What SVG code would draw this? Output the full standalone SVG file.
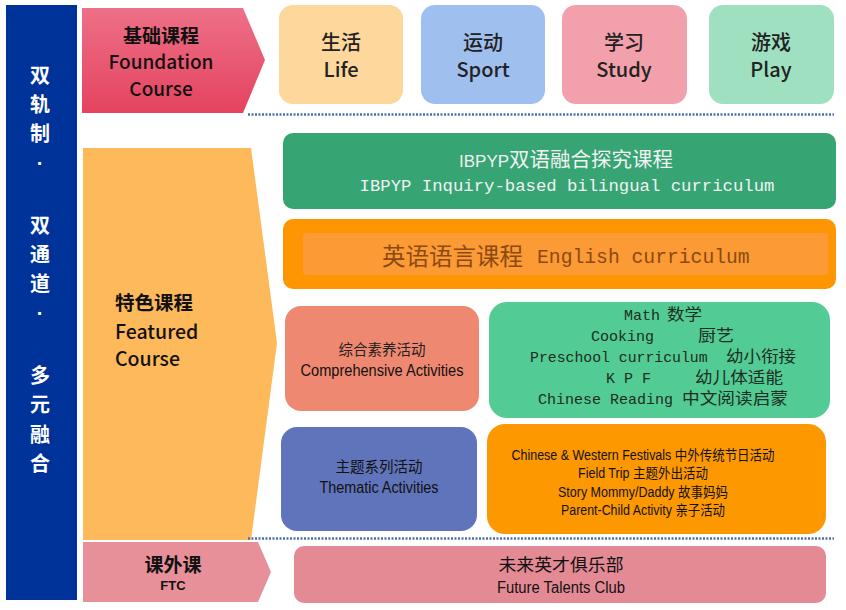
<svg xmlns="http://www.w3.org/2000/svg" width="846" height="610" viewBox="0 0 846 610">
<defs>
<linearGradient id="gFound" x1="0" y1="0" x2="0" y2="1">
<stop offset="0" stop-color="#ee7088"/>
<stop offset="1" stop-color="#e4435f"/>
</linearGradient>
</defs>
<style>
.cjk{font-family:"Liberation Sans","Noto Sans CJK SC",sans-serif}
.ttl{font-family:"Noto Sans CJK SC","Liberation Sans",sans-serif;font-weight:500}
.mono{font-family:"Liberation Mono","Noto Sans CJK SC",monospace}
.zh{font-family:"Liberation Sans","Noto Sans CJK SC",sans-serif}
.dot{stroke:#4f6fa8;stroke-width:2.5;stroke-dasharray:2 1.5;fill:none}
.t{text-anchor:middle}
</style>
<rect width="846" height="610" fill="#ffffff"/>

<g id="pillar">
<rect x="6" y="5" width="71" height="595" fill="#003399"/>
<g class="cjk t" font-size="20" font-weight="bold" fill="#ffffff">
<text x="40" y="83">双</text>
<text x="40" y="112">轨</text>
<text x="40" y="141">制</text>
<text x="40" y="170">·</text>
<text x="40" y="233">双</text>
<text x="40" y="262">通</text>
<text x="40" y="291">道</text>
<text x="40" y="320">·</text>
<text x="40" y="383">多</text>
<text x="40" y="412">元</text>
<text x="40" y="442">融</text>
<text x="40" y="471">合</text>
</g>
</g>

<g id="foundation">
<polygon points="82,8 243,8 265,60 243,113 82,113" fill="url(#gFound)"/>
<g class="ttl t" font-size="19" fill="#111111">
<text x="161" y="43" font-weight="bold">基础课程</text>
<text x="161" y="69">Foundation</text>
<text x="161" y="96">Course</text>
</g>
</g>

<g id="life">
<rect x="279" y="5" width="124" height="99" rx="14" fill="#fdd79c"/>
<text class="ttl t" x="341" y="50" font-size="20" font-weight="bold" fill="#222">生活</text>
<text class="ttl t" x="341" y="77" font-size="20" fill="#222">Life</text>
</g>
<g id="sport">
<rect x="421" y="5" width="124" height="99" rx="14" fill="#9fbfee"/>
<text class="ttl t" x="483" y="50" font-size="20" font-weight="bold" fill="#222">运动</text>
<text class="ttl t" x="483" y="77" font-size="20" fill="#222">Sport</text>
</g>
<g id="study">
<rect x="562" y="5" width="125" height="99" rx="14" fill="#f2a0ac"/>
<text class="ttl t" x="624" y="50" font-size="20" font-weight="bold" fill="#222">学习</text>
<text class="ttl t" x="624" y="77" font-size="20" fill="#222">Study</text>
</g>
<g id="play">
<rect x="709" y="5" width="125" height="99" rx="14" fill="#9fe0c1"/>
<text class="ttl t" x="771" y="50" font-size="20" font-weight="bold" fill="#222">游戏</text>
<text class="ttl t" x="771" y="77" font-size="20" fill="#222">Play</text>
</g>

<g id="featured">
<polygon points="83,148 251,148 277,343 251,540 83,540" fill="#fdb95a"/>
<g class="ttl" font-size="19.5" fill="#111111">
<text x="115" y="310" font-weight="bold">特色课程</text>
<text x="115" y="339">Featured</text>
<text x="115" y="366">Course</text>
</g>
</g>

<g id="ftc">
<polygon points="83,542 258,542 271,572 258,602 83,602" fill="#e8909a"/>
<text class="cjk t" x="173" y="572" font-size="19" font-weight="bold" fill="#111">课外课</text>
<text class="cjk t" x="173" y="590" font-size="13" font-weight="bold" fill="#111">FTC</text>
</g>

<g id="ibpyp">
<rect x="283" y="133" width="553" height="76" rx="10" fill="#36a473"/>
<text class="zh" x="459" y="167" fill="#f2f2f2"><tspan font-size="17">IBPYP</tspan><tspan font-size="20.5">双语融合探究课程</tspan></text>
<text class="mono t" x="567" y="191" font-size="17.3" fill="#f2f2f2">IBPYP Inquiry-based bilingual curriculum</text>
</g>

<g id="english">
<rect x="283" y="219" width="553" height="70" rx="10" fill="#fe9603"/>
<rect x="303" y="233" width="525" height="42" rx="3" fill="#fc9a36"/>
<text class="zh" x="382" y="265" font-size="23.5" fill="#8a4a10">英语语言课程</text>
<text class="mono" x="537" y="263" font-size="19.7" fill="#8a4a10">English curriculum</text>
</g>

<g id="comprehensive">
<rect x="285" y="306" width="194" height="105" rx="16" fill="#ef8870"/>
<text class="cjk t" x="382" y="355" font-size="15" fill="#222" textLength="87" lengthAdjust="spacingAndGlyphs">综合素养活动</text>
<text class="cjk t" x="382" y="376" font-size="16" fill="#111" textLength="163" lengthAdjust="spacingAndGlyphs">Comprehensive Activities</text>
</g>

<g id="specials">
<rect x="489" y="302" width="341" height="116" rx="18" fill="#53cb95"/>
<g class="mono" font-size="15" fill="#1c2d22">
<text x="624" y="320">Math</text>
<text class="zh" x="667" y="320" font-size="16" textLength="35" lengthAdjust="spacingAndGlyphs">数学</text>
<text x="591" y="341">Cooking</text>
<text class="zh" x="698" y="341" font-size="16" textLength="36" lengthAdjust="spacingAndGlyphs">厨艺</text>
<text x="530" y="362" font-size="14.8">Preschool curriculum</text>
<text class="zh" x="726" y="362" font-size="16" textLength="70" lengthAdjust="spacingAndGlyphs">幼小衔接</text>
<text x="606" y="383" xml:space="preserve">K P F</text>
<text class="zh" x="695" y="383" font-size="16" textLength="88" lengthAdjust="spacingAndGlyphs">幼儿体适能</text>
<text x="538" y="404">Chinese Reading</text>
<text class="zh" x="682" y="404" font-size="16" textLength="106" lengthAdjust="spacingAndGlyphs">中文阅读启蒙</text>
</g>
</g>

<g id="thematic">
<rect x="281" y="427" width="196" height="104" rx="16" fill="#5f74bb"/>
<text class="cjk t" x="379" y="472" font-size="15" fill="#111" textLength="87" lengthAdjust="spacingAndGlyphs">主题系列活动</text>
<text class="cjk t" x="379" y="493" font-size="16" fill="#111" textLength="119" lengthAdjust="spacingAndGlyphs">Thematic Activities</text>
</g>

<g id="festivals">
<rect x="487" y="424" width="339" height="110" rx="18" fill="#fd9800"/>
<g class="cjk t" font-size="14" fill="#111">
<text x="643" y="460" textLength="263" lengthAdjust="spacingAndGlyphs">Chinese &amp; Western Festivals 中外传统节日活动</text>
<text x="643" y="478" textLength="130" lengthAdjust="spacingAndGlyphs">Field Trip 主题外出活动</text>
<text x="643" y="497" textLength="170" lengthAdjust="spacingAndGlyphs">Story Mommy/Daddy 故事妈妈</text>
<text x="643" y="515" textLength="164" lengthAdjust="spacingAndGlyphs">Parent-Child Activity 亲子活动</text>
</g>
</g>

<g id="club">
<rect x="294" y="546" width="532" height="57" rx="10" fill="#e48a95"/>
<text class="cjk t" x="561" y="571" font-size="17" fill="#111" textLength="125" lengthAdjust="spacingAndGlyphs">未来英才俱乐部</text>
<text class="cjk t" x="561" y="593" font-size="16" fill="#111" textLength="128" lengthAdjust="spacingAndGlyphs">Future Talents Club</text>
</g>

<g id="connectors">
<line class="dot" x1="248" y1="114.5" x2="834" y2="114.5"/>
<line class="dot" x1="248" y1="538.5" x2="834" y2="538.5"/>
</g>
</svg>
